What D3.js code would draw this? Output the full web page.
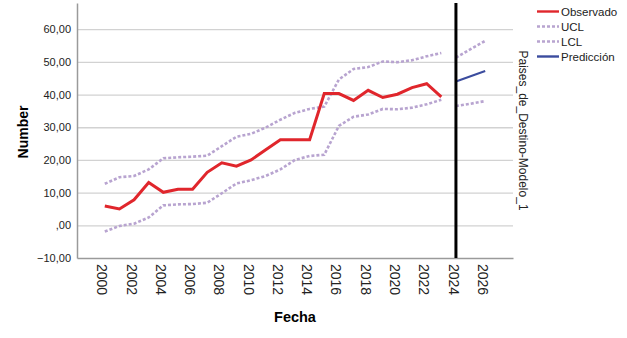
<!DOCTYPE html>
<html>
<head>
<meta charset="utf-8">
<script src="https://cdn.jsdelivr.net/npm/d3@7/dist/d3.min.js"></script>
<style>
  body { margin: 0; background: #fff; }
  svg { font-family: "Liberation Sans", Arial, sans-serif; display: block; }
</style>
</head>
<body>
<div id="chart"></div>
<script>
// 观测期
const years = [2000, 2001, 2002, 2003, 2004, 2005, 2006, 2007, 2008, 2009, 2010, 2011,
               2012, 2013, 2014, 2015, 2016, 2017, 2018, 2019, 2020, 2021, 2022, 2023];
const observado = [5.9, 5.0, 7.8, 13.1, 10.1, 11.0, 11.0, 16.2, 19.1, 18.1, 20.0, 23.1,
                   26.2, 26.2, 26.2, 40.3, 40.3, 38.2, 41.3, 39.1, 40.1, 42.1, 43.3, 39.3];
const ucl = [12.7, 14.7, 15.1, 17.1, 20.5, 20.8, 21.0, 21.3, 24.2, 27.1, 28.0, 29.9,
             32.3, 34.4, 35.6, 36.3, 44.6, 47.8, 48.4, 50.1, 49.9, 50.5, 51.7, 52.7];
const lcl = [-1.9, -0.2, 0.5, 2.4, 6.1, 6.4, 6.5, 6.9, 9.8, 12.8, 13.8, 15.1,
             17.1, 20.0, 21.2, 21.6, 30.4, 33.2, 33.9, 35.6, 35.5, 36.0, 37.0, 38.4];

// 预测期
const forecastYears = [2024, 2025, 2026];
const prediccion = [44.0, 45.6, 47.2];
const uclForecast = [51.3, 53.9, 56.4];
const lclForecast = [36.5, 37.2, 38.0];

const yTicks = [-10, 0, 10, 20, 30, 40, 50, 60];
const xTicks = [2000, 2002, 2004, 2006, 2008, 2010, 2012, 2014, 2016, 2018, 2020, 2022, 2024, 2026];
const forecastStart = 2024;

const legendItems = [
    {label: "Observado", color: "#e0262c", dash: null},
    {label: "UCL", color: "#b8a4d0", dash: "3,2"},
    {label: "LCL", color: "#b8a4d0", dash: "3,2"},
    {label: "Predicción", color: "#3b4c9e", dash: null}
];

const width = 627, height = 338;
const plot = {left: 77, right: 513, top: 3, bottom: 258};

const svg = d3.select("#chart").append("svg")
    .attr("width", width)
    .attr("height", height);

const x = d3.scaleLinear().domain([1998.1, 2027.9]).range([plot.left, plot.right]);
const y = d3.scaleLinear().domain([-10, 68]).range([plot.bottom, plot.top]);

// 网格线
svg.append("g")
    .attr("class", "grid")
    .attr("transform", `translate(${plot.left},0)`)
    .call(d3.axisLeft(y).tickValues(yTicks.filter(d => d > -10))
        .tickSize(-(plot.right - plot.left)).tickFormat(""))
    .call(g => g.select(".domain").remove())
    .call(g => g.selectAll("line").attr("stroke", "#d2d2d2").attr("stroke-width", 1.3));

// 坐标轴
const fmt = d => d === 0 ? ",00" : d3.format(".2f")(d).replace(".", ",");
svg.append("g")
    .attr("transform", `translate(${plot.left},0)`)
    .call(d3.axisLeft(y).tickValues(yTicks).tickSize(0).tickPadding(6).tickFormat(fmt))
    .call(g => g.select(".domain").attr("stroke", "#9a9a9a").attr("stroke-width", 1.5))
    .call(g => g.selectAll("text").attr("fill", "#222").style("font-size", "11px"));

const xAxis = svg.append("g")
    .attr("transform", `translate(0,${plot.bottom})`)
    .call(d3.axisBottom(x).tickValues(xTicks).tickSize(0).tickFormat(d3.format("d")))
    .call(g => g.select(".domain").attr("stroke", "#9a9a9a").attr("stroke-width", 1.5));
xAxis.selectAll("text")
    .attr("fill", "#222")
    .style("font-size", "14px")
    .attr("text-anchor", "start")
    .attr("transform", "translate(-3,6) rotate(90)")
    .attr("x", 0).attr("y", 0)
    .attr("dy", "0.35em");

// 线条
const line = d3.line().x(d => x(d[0])).y(d => y(d[1]));
const series = [
    {years: years, vals: ucl, color: "#b8a4d0", dash: "3,2", w: 2.6},
    {years: years, vals: lcl, color: "#b8a4d0", dash: "3,2", w: 2.6},
    {years: years, vals: observado, color: "#e0262c", dash: null, w: 3},
    {years: forecastYears, vals: uclForecast, color: "#b8a4d0", dash: "3,2", w: 2.6},
    {years: forecastYears, vals: lclForecast, color: "#b8a4d0", dash: "3,2", w: 2.6},
    {years: forecastYears, vals: prediccion, color: "#3b4c9e", dash: null, w: 2}
];
series.forEach(s => {
    svg.append("path")
        .datum(s.years.map((yr, i) => [yr, s.vals[i]]))
        .attr("fill", "none")
        .attr("stroke", s.color)
        .attr("stroke-width", s.w)
        .attr("stroke-dasharray", s.dash)
        .attr("d", line);
});

// 预测起点竖线
svg.append("line")
    .attr("x1", x(forecastStart)).attr("x2", x(forecastStart))
    .attr("y1", plot.top).attr("y2", plot.bottom)
    .attr("stroke", "#000").attr("stroke-width", 3);

// 标题
svg.append("text")
    .attr("x", (plot.left + plot.right) / 2).attr("y", 322)
    .attr("text-anchor", "middle")
    .style("font-size", "14.5px").style("font-weight", "bold")
    .text("Fecha");

svg.append("text")
    .attr("transform", "translate(28,132) rotate(-90)")
    .attr("text-anchor", "middle")
    .style("font-size", "14px").style("font-weight", "bold")
    .text("Number");

svg.append("text")
    .attr("transform", `translate(519,${(plot.top + plot.bottom) / 2}) rotate(90)`)
    .attr("text-anchor", "middle")
    .style("font-size", "12px")
    .attr("fill", "#222")
    .text("Paises_de_Destino-Modelo_1");

// 图例
const legend = svg.append("g").attr("transform", "translate(537,11.5)");
legendItems.forEach((d, i) => {
    const lg = legend.append("g").attr("transform", `translate(0,${i * 15})`);
    lg.append("line")
        .attr("x1", 0).attr("x2", 22)
        .attr("stroke", d.color)
        .attr("stroke-width", d.dash ? 2.6 : 2.4)
        .attr("stroke-dasharray", d.dash);
    lg.append("text")
        .attr("x", 24).attr("dy", "0.35em")
        .style("font-size", "11.5px")
        .attr("fill", "#222")
        .text(d.label);
});
</script>
</body>
</html>
